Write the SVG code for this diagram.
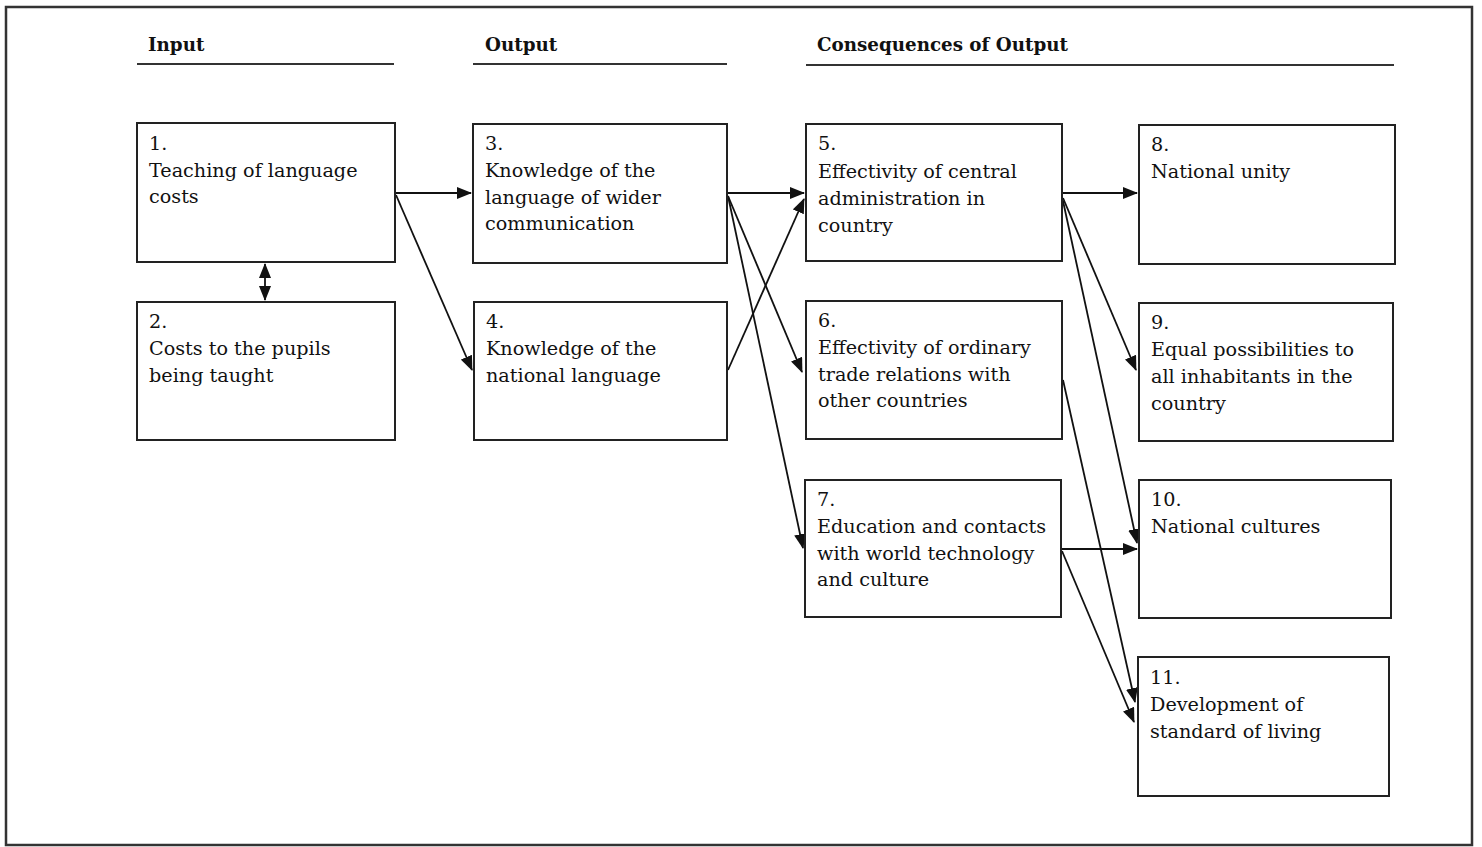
<svg xmlns="http://www.w3.org/2000/svg" width="1482" height="847" viewBox="0 0 1482 847">
  <defs>
    <marker id="arrow" viewBox="0 0 15 12" refX="14" refY="6" markerWidth="15" markerHeight="12" markerUnits="userSpaceOnUse" orient="auto-start-reverse">
      <path d="M0,0 L15,6 L0,12 Z" fill="#111"/>
    </marker>
    <style>
      .frame { fill: none; stroke: #333; stroke-width: 2.5; }
      .box { fill: #fff; stroke: #222; stroke-width: 2; }
      .head { font-family: "DejaVu Serif", "Liberation Serif", serif; font-size: 18.3px; font-weight: bold; fill: #111; }
      .rule { stroke: #333; stroke-width: 2; }
      .lbl { font-family: "DejaVu Serif", "Liberation Serif", serif; font-size: 19.2px; fill: #111; }
      .conn { fill: none; stroke: #111; stroke-width: 1.8; marker-end: url(#arrow); }
    </style>
  </defs>

  <rect width="1482" height="847" fill="#fff"/>
  <rect class="frame" x="6" y="7" width="1466" height="838"/>

  <!-- column headings -->
  <g id="headings">
    <text class="head" x="148" y="51">Input</text>
    <line class="rule" x1="137" y1="64" x2="394" y2="64"/>
    <text class="head" x="485" y="51">Output</text>
    <line class="rule" x1="473" y1="64" x2="727" y2="64"/>
    <text class="head" x="817" y="51">Consequences of Output</text>
    <line class="rule" x1="806" y1="65" x2="1394" y2="65"/>
  </g>

  <!-- connectors -->
  <g id="connectors">
    <line class="conn" x1="265" y1="264" x2="265" y2="300" style="marker-start:url(#arrow)"/>
    <line class="conn" x1="396" y1="193" x2="471" y2="193"/>
    <line class="conn" x1="396" y1="195" x2="472" y2="370"/>
    <line class="conn" x1="728" y1="193" x2="804" y2="193"/>
    <line class="conn" x1="728" y1="196" x2="802" y2="372"/>
    <line class="conn" x1="728" y1="196" x2="803" y2="548"/>
    <line class="conn" x1="728" y1="370" x2="804" y2="199"/>
    <line class="conn" x1="1063" y1="193" x2="1137" y2="193"/>
    <line class="conn" x1="1063" y1="198" x2="1136" y2="370"/>
    <line class="conn" x1="1063" y1="201" x2="1137" y2="543"/>
    <line class="conn" x1="1063" y1="380" x2="1135" y2="702"/>
    <line class="conn" x1="1062" y1="549" x2="1137" y2="549"/>
    <line class="conn" x1="1062" y1="551" x2="1134" y2="722"/>
  </g>

  <g id="n1">
    <rect class="box" x="137" y="123" width="258" height="139"/>
    <text class="lbl" x="149" y="150">1.</text>
    <text class="lbl" x="149" y="177">Teaching of language</text>
    <text class="lbl" x="149" y="203">costs</text>
  </g>
  <g id="n2">
    <rect class="box" x="137" y="302" width="258" height="138"/>
    <text class="lbl" x="149" y="328">2.</text>
    <text class="lbl" x="149" y="355">Costs to the pupils</text>
    <text class="lbl" x="149" y="382">being taught</text>
  </g>
  <g id="n3">
    <rect class="box" x="473" y="124" width="254" height="139"/>
    <text class="lbl" x="485" y="150">3.</text>
    <text class="lbl" x="485" y="177">Knowledge of the</text>
    <text class="lbl" x="485" y="204">language of wider</text>
    <text class="lbl" x="485" y="230">communication</text>
  </g>
  <g id="n4">
    <rect class="box" x="474" y="302" width="253" height="138"/>
    <text class="lbl" x="486" y="328">4.</text>
    <text class="lbl" x="486" y="355">Knowledge of the</text>
    <text class="lbl" x="486" y="382">national language</text>
  </g>
  <g id="n5">
    <rect class="box" x="806" y="124" width="256" height="137"/>
    <text class="lbl" x="818" y="150">5.</text>
    <text class="lbl" x="818" y="178">Effectivity of central</text>
    <text class="lbl" x="818" y="205">administration in</text>
    <text class="lbl" x="818" y="232">country</text>
  </g>
  <g id="n6">
    <rect class="box" x="806" y="301" width="256" height="138"/>
    <text class="lbl" x="818" y="327">6.</text>
    <text class="lbl" x="818" y="354">Effectivity of ordinary</text>
    <text class="lbl" x="818" y="381">trade relations with</text>
    <text class="lbl" x="818" y="407">other countries</text>
  </g>
  <g id="n7">
    <rect class="box" x="805" y="480" width="256" height="137"/>
    <text class="lbl" x="817" y="506">7.</text>
    <text class="lbl" x="817" y="533">Education and contacts</text>
    <text class="lbl" x="817" y="560">with world technology</text>
    <text class="lbl" x="817" y="586">and culture</text>
  </g>
  <g id="n8">
    <rect class="box" x="1139" y="125" width="256" height="139"/>
    <text class="lbl" x="1151" y="151">8.</text>
    <text class="lbl" x="1151" y="178">National unity</text>
  </g>
  <g id="n9">
    <rect class="box" x="1139" y="303" width="254" height="138"/>
    <text class="lbl" x="1151" y="329">9.</text>
    <text class="lbl" x="1151" y="356">Equal possibilities to</text>
    <text class="lbl" x="1151" y="383">all inhabitants in the</text>
    <text class="lbl" x="1151" y="410">country</text>
  </g>
  <g id="n10">
    <rect class="box" x="1139" y="480" width="252" height="138"/>
    <text class="lbl" x="1151" y="506">10.</text>
    <text class="lbl" x="1151" y="533">National cultures</text>
  </g>
  <g id="n11">
    <rect class="box" x="1138" y="657" width="251" height="139"/>
    <text class="lbl" x="1150" y="684">11.</text>
    <text class="lbl" x="1150" y="711">Development of</text>
    <text class="lbl" x="1150" y="738">standard of living</text>
  </g>
</svg>
